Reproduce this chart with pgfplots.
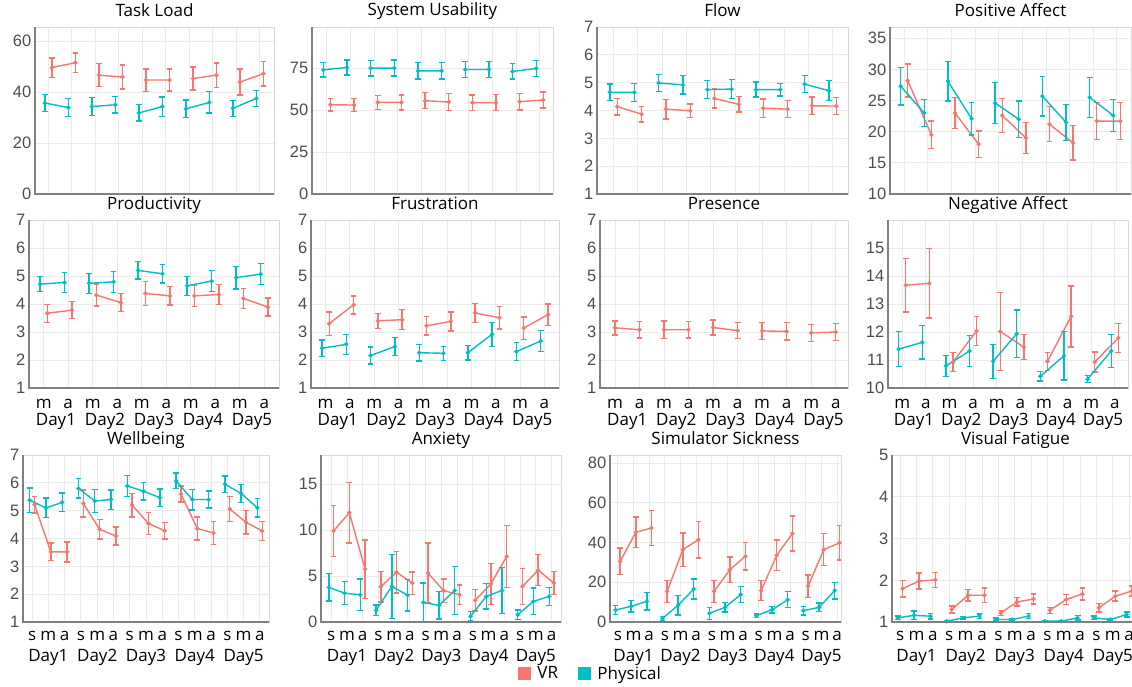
\documentclass[border=0pt]{standalone}
\usepackage{fontspec}
\setmainfont{Open Sans}
\newfontfamily\tickfont{Liberation Sans}
\usepackage{pgfplots}
\pgfplotsset{compat=1.18}

\definecolor{vrc}{HTML}{F8766D}
\definecolor{phc}{HTML}{00BFC4}
\definecolor{gridc}{HTML}{EBEBEB}
\definecolor{boxc}{HTML}{D9D9D9}
\definecolor{axc}{HTML}{808080}
\definecolor{tickc}{HTML}{4D4D4D}

\pgfplotsset{
  panel/.style={scale only axis, anchor=south west,
    title style={font=\fontsize{17}{18}\selectfont, at={(0.5,1)}, anchor=base, yshift=5pt, inner sep=0pt},
    xmajorgrids, ymajorgrids, grid style={gridc, line width=0.9pt},
    axis line style={boxc, line width=0.9pt},
    major tick length=0pt, minor tick length=0pt,
    /pgf/number format/assume math mode=true,
    yticklabel style={font=\tickfont\fontsize{16.5}{16.5}\selectfont, text=tickc, inner sep=0pt, xshift=-3.5pt},
    xticklabel style={font=\fontsize{17}{17}\selectfont, anchor=base, inner sep=0pt},
    unbounded coords=jump,
    after end axis/.code={\draw[axc, line width=1.1pt] (rel axis cs:0,1) -- (rel axis cs:0,0) -- (rel axis cs:1,0);},
  },
  two/.style={xtick={0,...,9}},
  three/.style={xtick={0,...,14}},
  toprow/.style={two, xticklabels={}},
  marow/.style={two, xticklabels={m,a,m,a,m,a,m,a,m,a}, xticklabel style={yshift=-20pt},
    extra x ticks={0.5,2.5,4.5,6.5,8.5}, extra x tick labels={Day1,Day2,Day3,Day4,Day5},
    extra x tick style={grid=none, xticklabel style={yshift=-17pt}}},
  smarow/.style={three, xticklabels={s,m,a,s,m,a,s,m,a,s,m,a,s,m,a}, xticklabel style={yshift=-18pt},
    extra x ticks={1,4,7,10,13}, extra x tick labels={Day1,Day2,Day3,Day4,Day5},
    extra x tick style={grid=none, xticklabel style={yshift=-21pt}}},
  % error bar: stem plus a horizontal cap, drawn by pgfplots for each data point
  series/.style={line width=1.4pt, mark=*, mark size=1.4pt,
    /pgfplots/error bars/y dir=both, /pgfplots/error bars/y explicit,
    /pgfplots/error bars/draw error bar/.code 2 args={%
      \draw[#1, line width=1.4pt, solid] ##1 -- ##2;
      \draw[#1, line width=1.4pt, solid] ##2 ++(-2.9pt,0pt) -- ++(5.8pt,0pt);}},
  vr/.style={vrc, series=vrc},
  ph/.style={phc, series=phc},
}

\begin{document}
\begin{tikzpicture}

% ---------- row 1 ----------
\begin{axis}[panel, toprow, at={(35pt,-194pt)}, width=239pt, height=167pt,
  title={Task Load}, xmin=-0.57, xmax=9.6, ymin=0, ymax=65.5, ytick={0,20,40,60}]
\addplot[vr] table[x expr=\thisrow{x}+0.15, y=y, y error=e] {
x y e
0 49.6 3.8
1 51.5 3.8
1.5 nan 0
2 46.6 4.5
3 45.9 4.7
3.5 nan 0
4 44.7 4.4
5 44.7 4.3
5.5 nan 0
6 45.3 4.5
7 46.6 4.8
7.5 nan 0
8 43.9 5.1
9 47.2 4.8
};
\addplot[ph] table[x expr=\thisrow{x}-0.15, y=y, y error=e] {
x y e
0 35.7 3.3
1 33.9 3.6
1.5 nan 0
2 34.3 3.6
3 35.0 3.3
3.5 nan 0
4 31.8 3.2
5 34.3 3.8
5.5 nan 0
6 33.4 3.4
7 35.9 4.2
7.5 nan 0
8 33.6 3.1
9 37.5 3.2
};
\end{axis}

\begin{axis}[panel, toprow, at={(312pt,-194pt)}, width=241pt, height=167pt,
  title={System Usability}, xmin=-0.63, xmax=9.56, ymin=0, ymax=99.5, ytick={0,25,50,75}]
\addplot[vr] table[x expr=\thisrow{x}+0.15, y=y, y error=e] {
x y e
0 53.2 3.8
1 53.0 4.0
1.5 nan 0
2 54.6 4.2
3 54.6 4.5
3.5 nan 0
4 55.6 4.8
5 54.8 5.0
5.5 nan 0
6 54.4 4.7
7 54.4 4.8
7.5 nan 0
8 55.0 4.9
9 56.0 4.7
};
\addplot[ph] table[x expr=\thisrow{x}-0.15, y=y, y error=e] {
x y e
0 74.0 4.4
1 75.4 4.5
1.5 nan 0
2 75.0 4.6
3 75.0 4.8
3.5 nan 0
4 73.4 4.8
5 73.4 4.8
5.5 nan 0
6 74.2 4.7
7 74.2 4.9
7.5 nan 0
8 73.0 4.6
9 74.8 4.7
};
\end{axis}

\begin{axis}[panel, toprow, at={(597pt,-194pt)}, width=251pt, height=167pt,
  title={Flow}, xmin=-0.68, xmax=9.63, ymin=1, ymax=7, ytick={1,...,7}]
\addplot[vr] table[x expr=\thisrow{x}+0.15, y=y, y error=e] {
x y e
0 4.14 0.30
1 3.87 0.28
1.5 nan 0
2 4.05 0.35
3 3.99 0.25
3.5 nan 0
4 4.43 0.34
5 4.22 0.28
5.5 nan 0
6 4.08 0.33
7 4.05 0.30
7.5 nan 0
8 4.17 0.31
9 4.16 0.30
};
\addplot[ph] table[x expr=\thisrow{x}-0.15, y=y, y error=e] {
x y e
0 4.65 0.30
1 4.65 0.33
1.5 nan 0
2 4.99 0.30
3 4.92 0.33
3.5 nan 0
4 4.75 0.32
5 4.77 0.34
5.5 nan 0
6 4.75 0.27
7 4.75 0.23
7.5 nan 0
8 4.95 0.31
9 4.71 0.36
};
\end{axis}

\begin{axis}[panel, toprow, at={(890pt,-194pt)}, width=241pt, height=167pt,
  title={Positive Affect}, xmin=-0.6, xmax=9.6, ymin=10, ymax=36.8, ytick={10,15,20,25,30,35}]
\addplot[vr] table[x expr=\thisrow{x}+0.15, y=y, y error=e] {
x y e
0 28.2 2.65
1 19.5 2.2
1.5 nan 0
2 23.0 2.5
3 18.0 2.1
3.5 nan 0
4 22.6 2.7
5 19.0 2.5
5.5 nan 0
6 21.2 2.8
7 18.2 2.75
7.5 nan 0
8 21.7 3.0
9 21.7 3.0
};
\addplot[ph] table[x expr=\thisrow{x}-0.15, y=y, y error=e] {
x y e
0 27.3 3.0
1 23.0 2.15
1.5 nan 0
2 28.1 3.2
3 22.1 2.6
3.5 nan 0
4 24.6 3.3
5 22.0 2.9
5.5 nan 0
6 25.7 3.2
7 21.5 2.9
7.5 nan 0
8 25.5 3.2
9 22.6 2.55
};
\end{axis}

% ---------- row 2 ----------
\begin{axis}[panel, marow, at={(29pt,-388pt)}, width=250pt, height=168pt,
  title={Productivity}, xmin=-0.6, xmax=9.6, ymin=1, ymax=7, ytick={1,...,7}]
\addplot[vr] table[x expr=\thisrow{x}+0.15, y=y, y error=e] {
x y e
0 3.67 0.32
1 3.78 0.30
1.5 nan 0
2 4.32 0.39
3 4.05 0.32
3.5 nan 0
4 4.38 0.43
5 4.29 0.33
5.5 nan 0
6 4.29 0.38
7 4.34 0.35
7.5 nan 0
8 4.20 0.35
9 3.89 0.32
};
\addplot[ph] table[x expr=\thisrow{x}-0.15, y=y, y error=e] {
x y e
0 4.71 0.27
1 4.77 0.35
1.5 nan 0
2 4.74 0.36
3 4.79 0.38
3.5 nan 0
4 5.20 0.31
5 5.08 0.33
5.5 nan 0
6 4.65 0.34
7 4.82 0.38
7.5 nan 0
8 4.94 0.41
9 5.07 0.37
};
\end{axis}

\begin{axis}[panel, marow, at={(311pt,-388pt)}, width=248pt, height=168pt,
  title={Frustration}, xmin=-0.6, xmax=9.6, ymin=1, ymax=7, ytick={1,...,7}]
\addplot[vr] table[x expr=\thisrow{x}+0.15, y=y, y error=e] {
x y e
0 3.30 0.42
1 3.97 0.32
1.5 nan 0
2 3.40 0.27
3 3.44 0.36
3.5 nan 0
4 3.22 0.33
5 3.38 0.34
5.5 nan 0
6 3.68 0.33
7 3.51 0.40
7.5 nan 0
8 3.14 0.40
9 3.62 0.38
};
\addplot[ph] table[x expr=\thisrow{x}-0.15, y=y, y error=e] {
x y e
0 2.42 0.29
1 2.56 0.36
1.5 nan 0
2 2.16 0.30
3 2.48 0.32
3.5 nan 0
4 2.26 0.30
5 2.24 0.25
5.5 nan 0
6 2.26 0.26
7 2.92 0.43
7.5 nan 0
8 2.30 0.32
9 2.68 0.37
};
\end{axis}

\begin{axis}[panel, marow, at={(600pt,-388pt)}, width=248pt, height=168pt,
  title={Presence}, xmin=-0.61, xmax=9.5, ymin=1, ymax=7, ytick={1,...,7}]
\addplot[vr] table[x=x, y=y, y error=e] {
x y e
0 3.15 0.25
1 3.08 0.30
1.5 nan 0
2 3.08 0.31
3 3.08 0.30
3.5 nan 0
4 3.16 0.27
5 3.05 0.29
5.5 nan 0
6 3.04 0.31
7 3.02 0.31
7.5 nan 0
8 2.97 0.30
9 3.00 0.31
};
\end{axis}

\begin{axis}[panel, marow, at={(888pt,-388pt)}, width=240pt, height=168pt,
  title={Negative Affect}, xmin=-0.6, xmax=9.56, ymin=10, ymax=16, ytick={10,...,15}]
\addplot[vr] table[x expr=\thisrow{x}+0.15, y=y, y error=e] {
x y e
0 13.67 0.95
1 13.74 1.24
1.5 nan 0
2 10.92 0.34
3 12.04 0.52
3.5 nan 0
4 12.02 1.40
5 11.46 0.45
5.5 nan 0
6 10.95 0.32
7 12.56 1.09
7.5 nan 0
8 10.93 0.36
9 11.79 0.52
};
\addplot[ph] table[x expr=\thisrow{x}-0.15, y=y, y error=e] {
x y e
0 11.39 0.63
1 11.63 0.60
1.5 nan 0
2 10.79 0.37
3 11.32 0.55
3.5 nan 0
4 10.95 0.61
5 11.94 0.85
5.5 nan 0
6 10.42 0.17
7 11.15 0.86
7.5 nan 0
8 10.32 0.13
9 11.32 0.59
};
\end{axis}

% ---------- row 3 ----------
\begin{axis}[panel, smarow, at={(23pt,-622pt)}, width=246pt, height=167pt,
  title={Wellbeing}, xmin=-0.56, xmax=14.56, ymin=1, ymax=7, ytick={1,...,7}]
\addplot[vr] table[x expr=\thisrow{x}+0.15, y=y, y error=e] {
x y e
0 5.22 0.30
1 3.52 0.32
2 3.52 0.36
2.5 nan 0
3 5.26 0.48
4 4.33 0.35
5 4.09 0.32
5.5 nan 0
6 5.20 0.42
7 4.54 0.40
8 4.28 0.30
8.5 nan 0
9 5.60 0.29
10 4.36 0.42
11 4.20 0.41
11.5 nan 0
12 5.06 0.44
13 4.58 0.42
14 4.27 0.35
};
\addplot[ph] table[x expr=\thisrow{x}-0.15, y=y, y error=e] {
x y e
0 5.38 0.44
1 5.10 0.35
2 5.30 0.33
2.5 nan 0
3 5.80 0.35
4 5.35 0.41
5 5.40 0.35
5.5 nan 0
6 5.89 0.37
7 5.70 0.31
8 5.47 0.31
8.5 nan 0
9 6.07 0.28
10 5.40 0.37
11 5.40 0.30
11.5 nan 0
12 5.95 0.30
13 5.62 0.32
14 5.10 0.33
};
\end{axis}

\begin{axis}[panel, smarow, at={(321pt,-622pt)}, width=240pt, height=167pt,
  title={Anxiety}, xmin=-0.65, xmax=14.6, ymin=0, ymax=18.2, ytick={0,5,10,15},
  legend columns=2,
  legend style={at={(0.82,-0.308)}, anchor=west, draw=none, fill=none, inner sep=0pt,
    font=\fontsize{17}{17}\selectfont,
    /tikz/every odd column/.append style={column sep=5pt},
    /tikz/every even column/.append style={column sep=18pt}}]
\addplot[forget plot, vr] table[x expr=\thisrow{x}+0.15, y=y, y error=e] {
x y e
0 9.93 2.8
1 11.92 3.3
2 5.76 3.17
2.5 nan 0
3 3.84 1.68
4 5.43 2.26
5 4.24 1.23
5.5 nan 0
6 5.33 3.26
7 3.41 1.29
8 2.97 1.05
8.5 nan 0
9 2.36 1.18
10 4.17 2.23
11 7.14 3.35
11.5 nan 0
12 3.88 1.96
13 5.65 1.70
14 4.24 1.27
};
\addplot[forget plot, ph] table[x expr=\thisrow{x}-0.15, y=y, y error=e] {
x y e
0 3.77 1.5
1 3.15 1.27
2 2.97 1.72
2.5 nan 0
3 1.27 0.58
4 3.88 3.5
5 2.93 1.72
5.5 nan 0
6 2.14 2.1
7 1.81 1.5
8 3.44 2.62
8.5 nan 0
9 0.62 0.5
10 2.79 1.38
11 3.44 2.5
11.5 nan 0
12 0.80 0.5
13 2.25 1.45
14 2.79 1.0
};
\addlegendimage{legend image code/.code={\fill[vrc] (0pt,-6pt) rectangle (12pt,6pt);}}
\addlegendentry{VR}
\addlegendimage{legend image code/.code={\fill[phc] (0pt,-6pt) rectangle (12pt,6pt);}}
\addlegendentry{Physical}
\end{axis}

\begin{axis}[panel, smarow, at={(610pt,-622pt)}, width=231pt, height=167pt,
  title={Simulator Sickness}, xmin=-0.5, xmax=14.25, ymin=0, ymax=84, ytick={0,20,40,60,80}]
\addplot[vr] table[x expr=\thisrow{x}+0.15, y=y, y error=e] {
x y e
0 30.5 6.7
1 45.1 7.7
2 47.3 8.8
2.5 nan 0
3 15.4 5.5
4 36.4 8.4
5 41.4 9.2
5.5 nan 0
6 15.4 5.5
7 26.3 6.4
8 33.1 7.0
8.5 nan 0
9 15.8 5.0
10 33.6 7.7
11 44.5 8.8
11.5 nan 0
12 18.0 5.7
13 36.4 8.0
14 39.8 8.7
};
\addplot[ph] table[x expr=\thisrow{x}-0.15, y=y, y error=e] {
x y e
0 6.0 2.3
1 7.9 2.9
2 10.4 4.4
2.5 nan 0
3 1.8 1.0
4 8.4 4.8
5 16.6 5.0
5.5 nan 0
6 4.4 3.0
7 7.4 2.4
8 13.8 4.0
8.5 nan 0
9 3.2 0.8
10 6.2 1.7
11 11.2 4.0
11.5 nan 0
12 5.7 2.1
13 7.4 2.1
14 15.8 4.2
};
\end{axis}

\begin{axis}[panel, smarow, at={(892pt,-622pt)}, width=247pt, height=167pt,
  title={Visual Fatigue}, xmin=-0.5, xmax=14.6, ymin=1, ymax=5, ytick={1,...,5}]
\addplot[vr] table[x expr=\thisrow{x}+0.15, y=y, y error=e] {
x y e
0 1.80 0.20
1 1.98 0.19
2 2.01 0.18
2.5 nan 0
3 1.30 0.08
4 1.64 0.14
5 1.64 0.17
5.5 nan 0
6 1.22 0.06
7 1.48 0.10
8 1.55 0.12
8.5 nan 0
9 1.28 0.07
10 1.54 0.12
11 1.67 0.14
11.5 nan 0
12 1.34 0.10
13 1.62 0.12
14 1.74 0.12
};
\addplot[ph] table[x expr=\thisrow{x}-0.15, y=y, y error=e] {
x y e
0 1.10 0.04
1 1.16 0.10
2 1.14 0.07
2.5 nan 0
3 1.02 0.02
4 1.10 0.03
5 1.14 0.05
5.5 nan 0
6 1.06 0.04
7 1.06 0.02
8 1.14 0.06
8.5 nan 0
9 1.02 0.02
10 1.02 0.02
11 1.10 0.05
11.5 nan 0
12 1.10 0.04
13 1.06 0.02
14 1.18 0.06
};
\end{axis}

\pgfresetboundingbox
\path[use as bounding box] (0pt,0pt) rectangle (1132pt,-686pt);
\end{tikzpicture}
\end{document}
